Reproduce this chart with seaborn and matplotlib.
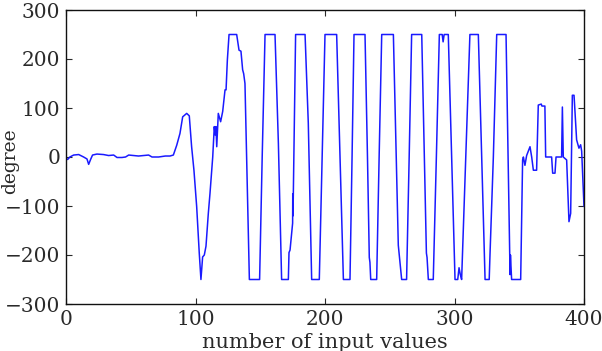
import matplotlib
matplotlib.use("Agg")
import matplotlib.pyplot as plt
import seaborn as sns
import pandas as pd

# Data (sample index, angle in degrees)
sample_index = [
    0, 1.3, 3, 5.9, 9.8, 13.6, 16.2, 17.5, 19, 20.5, 23.9, 29, 32.9, 36.8, 39.4,
    43.2, 46, 48.4, 52.2, 56, 60, 63.8, 66.4, 71.5, 76.7, 80.3, 82.9, 85.5, 88,
    90.1, 93.2, 95.2, 97, 98.8, 100.9, 102.9, 104.2, 105.5, 106.8, 108.1, 109.9,
    111.2, 113.3, 114.5, 115.2, 115.8, 116.4, 117.6, 119.4, 121, 122.8, 123.6,
    124.6, 125.9, 131.8, 133.6, 135.1, 136.4, 137.2, 138.2, 141.6, 149.5, 151.5,
    153.7, 161.4, 164, 166.5, 171.7, 172.2, 173, 175, 175.1, 175.3, 177.3, 184.6,
    187.1, 189.7, 195.6, 197.8, 200, 209, 211.6, 214.2, 219.3, 220.9, 222.4,
    230.9, 232.8, 234.2, 234.7, 235.3, 239.9, 241.8, 243.8, 252.8, 256.6, 259.2,
    263, 265, 266.9, 274.7, 278.3, 278.8, 279.8, 283.6, 286, 288.3, 290.5, 291.2,
    292, 295.2, 297.8, 300.4, 302.5, 303.5, 304.5, 305.5, 308.7, 311.9, 318.4,
    321, 323.6, 326.8, 327.4, 330, 332.6, 339.8, 342.6, 342.9, 343.2, 344.1,
    351.1, 352.6, 353.2, 354.4, 355.7, 358.3, 359.6, 360.9, 363.4, 364.7, 367,
    367.5, 369.8, 370.4, 375, 375.8, 377.6, 378.4, 382.7, 383.3, 384, 386.6,
    388.4, 389.7, 391, 392.3, 394.3, 396.1, 397.4, 398.2, 400,
]
degree = [
    -3, -5, 0, 4, 5, 0, -4, -15, -5, 4, 6, 5, 3, 4, -1,
    -1, 0, 4, 3, 2, 3, 4, 0, 0, 2, 2, 4, 24, 48,
    82, 89, 84, 21, -27, -101, -196, -250, -204, -200, -182, -115,
    -74, 0, 62, 45, 62, 21, 89, 72, 93, 137, 137,
    198, 250, 250, 218, 216, 178, 170, 150, -250, -250, 0,
    250, 250, 28, -250, -250, -195, -190, -135, -75, -120, 250, 250,
    69, -250, -250, 0, 250, 250, 0, -250, -250, 0, 250,
    250, 0, -205, -215, -250, -250, 0, 250, 250, -180, -250,
    -250, 0, 250, 250, -196, -205, -250, -250, 0, 250, 250, 235,
    250, 250, 0, -250, -250, -226, -240, -250, 0, 250, 250,
    0, -250, -250, -200, 0, 250, 250, -195, -240, -200, -250,
    -250, -6, 0, -17, 3, 21, 0, -27, -27, 106, 108,
    104, 104, 0, 0, -33, -33, 0, 0, 102, 0, -6,
    -132, -115, 126, 126, 35, 18, 25, 12, -101,
]
x_ticks = [0, 100, 200, 300, 400]
y_ticks = [-300, -200, -100, 0, 100, 200, 300]
x_label = "number of input values"
y_label = "degree"

sns.set_style("ticks", {
    "xtick.direction": "in",
    "ytick.direction": "in",
})
plt.rcParams["font.family"] = ["DejaVu Serif"]
plt.rcParams["axes.unicode_minus"] = True

df = pd.DataFrame({"x": sample_index, "y": degree})

fig = plt.figure(figsize=(6.02, 3.51), dpi=100)
ax = fig.add_axes([66 / 602, 1 - 304 / 351, 518 / 602, 294 / 351])

sns.lineplot(data=df, x="x", y="y", ax=ax, color="#1a1aff", linewidth=1.1,
             sort=False, estimator=None)

ax.set_xlim(0, 400)
ax.set_ylim(-300, 300)
ax.set_xticks(x_ticks)
ax.set_yticks(y_ticks)
ax.tick_params(axis="both", which="both", direction="in", top=True, right=True,
               length=4, width=0.8, labelsize=14.5, pad=4, colors="#2a2a2a")
for s in ax.spines.values():
    s.set_visible(True)
    s.set_linewidth(1.0)
    s.set_color("#111111")

ax.set_xlabel(x_label, fontsize=15, labelpad=3, color="#2a2a2a")
ax.set_ylabel(y_label, fontsize=13.5, color="#2a2a2a", va="center")
ax.yaxis.set_label_coords(-0.108, 0.485)

fig.savefig("out.png", dpi=100)
